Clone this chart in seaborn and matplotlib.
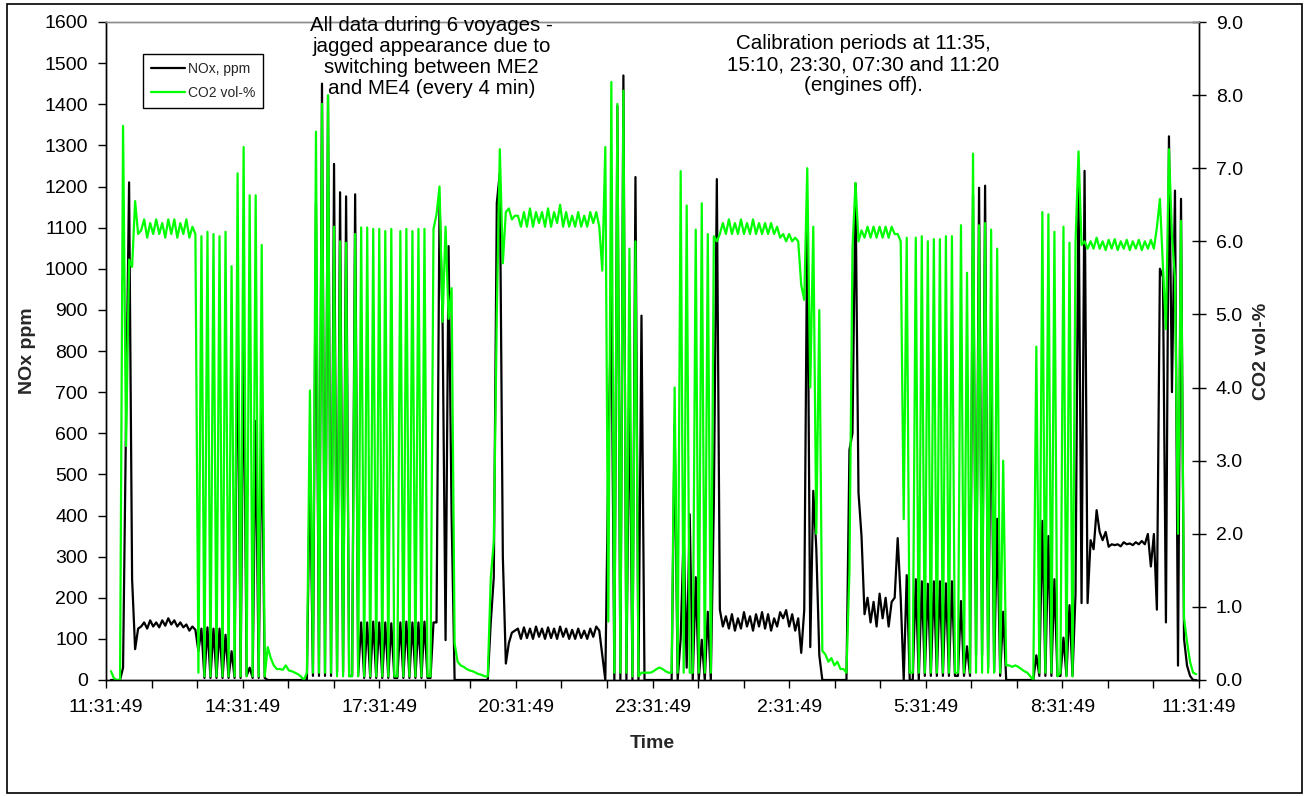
import numpy as np
import pandas as pd
import matplotlib
matplotlib.use("Agg")
import matplotlib.pyplot as plt
from matplotlib.ticker import MultipleLocator, FixedLocator, FormatStrFormatter
from matplotlib.patches import Rectangle
import seaborn as sns

sns.set_style("white")
plt.rcParams['font.family'] = ['Liberation Sans', 'DejaVu Sans']

# ---------------- data (one sample about every 4 minutes) ----------------
first_sample_min = 6.59      # minutes after 11:31:49 of the first logged sample
sample_step_min = 3.971      # logging interval in minutes

co2_1 = [0.12, 0.02, 0.0, 0.0, 7.58, 3.2, 5.75, 5.65, 6.55, 6.1,
         6.15, 6.3, 6.05, 6.25, 6.1, 6.3, 6.1, 6.25, 6.05, 6.3,
         6.1, 6.3, 6.05, 6.25, 6.1, 6.3, 6.05, 6.2, 6.1, 0.1,
         6.07, 0.05, 6.13, 0.05, 6.1, 0.05, 6.07, 0.05, 6.13, 0.05,
         5.66, 0.05, 6.93, 0.05, 7.29]
nox_1 = [0, 0, 0, 0, 30, 640, 1210, 245, 75, 125,
         130, 140, 125, 145, 130, 140, 128, 145, 132, 150,
         135, 145, 130, 140, 128, 135, 120, 130, 122, 70,
         125, 5, 128, 5, 125, 5, 125, 5, 110, 5,
         70, 5, 918, 5, 855]

co2_2 = [0.05, 6.63, 0.05, 6.63, 0.05, 5.95, 0.05, 0.45, 0.3, 0.2,
         0.15, 0.15, 0.14, 0.2, 0.13, 0.12, 0.1, 0.08, 0.05, 0.0,
         0.1, 3.96, 0.1, 7.5, 0.1, 7.88, 0.1, 8.0, 0.1, 6.2,
         0.05, 6.0, 0.05, 5.98, 0.05, 0.05, 6.1, 0.05, 6.19, 0.05,
         6.19, 0.05, 6.17, 0.05, 6.17]
nox_2 = [10, 30, 5, 630, 5, 660, 5, 0, 0, 0,
         0, 0, 0, 0, 0, 0, 0, 0, 0, 0,
         0, 530, 10, 1160, 10, 1450, 10, 1420, 10, 1255,
         20, 1186, 20, 1176, 10, 10, 1181, 10, 140, 5,
         140, 5, 142, 5, 140]

co2_3 = [0.05, 6.14, 0.05, 6.17, 0.05, 0.05, 6.14, 0.05, 6.17, 0.05,
         6.14, 0.05, 6.17, 0.05, 6.17, 0.05, 0.05, 6.17, 6.37, 6.75,
         4.9, 6.2, 4.94, 5.36, 0.5, 0.25, 0.2, 0.18, 0.15, 0.13,
         0.12, 0.1, 0.08, 0.07, 0.05, 0.05, 1.4, 1.9, 5.0, 7.26,
         5.7, 6.4, 6.45, 6.3, 6.35]
nox_3 = [5, 140, 5, 138, 5, 5, 140, 5, 142, 5,
         140, 5, 140, 5, 142, 5, 5, 140, 140, 1170,
         875, 97, 1055, 400, 0, 0, 0, 0, 0, 0,
         0, 0, 0, 0, 0, 0, 140, 250, 1160, 1233,
         300, 40, 90, 115, 120]

co2_4 = [6.35, 6.2, 6.4, 6.2, 6.45, 6.2, 6.4, 6.25, 6.4, 6.2,
         6.45, 6.2, 6.4, 6.25, 6.5, 6.2, 6.4, 6.2, 6.35, 6.2,
         6.4, 6.2, 6.35, 6.2, 6.4, 6.25, 6.4, 6.2, 5.6, 7.29,
         0.8, 8.18, 0.1, 7.88, 0.1, 8.06, 0.1, 5.9, 0.05, 6.0,
         0.05, 0.1, 0.1, 0.1, 0.1]
nox_4 = [125, 100, 128, 102, 125, 100, 130, 105, 125, 100,
         128, 102, 125, 100, 130, 105, 125, 100, 122, 100,
         125, 102, 120, 100, 125, 105, 130, 120, 60, 0,
         540, 940, 0, 1396, 0, 1470, 0, 750, 0, 1223,
         0, 886, 0, 0, 0]

co2_5 = [0.12, 0.15, 0.17, 0.15, 0.12, 0.1, 0.1, 4.0, 0.1, 6.96,
         0.1, 6.49, 0.1, 0.1, 6.16, 0.1, 6.52, 0.1, 6.1, 0.1,
         6.07, 6.0, 6.1, 6.25, 6.1, 6.3, 6.1, 6.25, 6.1, 6.3,
         6.1, 6.25, 6.1, 6.3, 6.1, 6.25, 6.1, 6.25, 6.1, 6.25,
         6.1, 6.2, 6.05, 6.1, 6.0]
nox_5 = [0, 0, 0, 0, 0, 0, 0, 623, 0, 100,
         360, 30, 403, 0, 250, 0, 98, 0, 166, 0,
         424, 1218, 171, 130, 155, 125, 160, 120, 150, 125,
         165, 130, 155, 120, 160, 130, 165, 125, 160, 120,
         150, 130, 165, 150, 170]

co2_6 = [6.1, 6.0, 6.05, 6.0, 5.4, 5.2, 7.0, 4.0, 6.2, 2.0,
         5.06, 0.4, 0.35, 0.25, 0.3, 0.2, 0.25, 0.15, 0.15, 0.1,
         1.5, 5.9, 6.8, 6.0, 6.15, 6.05, 6.2, 6.05, 6.2, 6.05,
         6.2, 6.05, 6.2, 6.05, 6.2, 6.1, 6.1, 6.0, 2.2, 6.05,
         0.1, 0.1, 6.05, 0.1, 6.07]
nox_6 = [130, 160, 120, 150, 66, 170, 1128, 80, 460, 320,
         60, 0, 0, 0, 0, 0, 0, 0, 0, 0,
         560, 600, 1207, 455, 350, 160, 200, 140, 190, 130,
         210, 150, 200, 130, 190, 200, 345, 200, 0, 255,
         0, 0, 245, 0, 240]

co2_7 = [0.1, 6.0, 0.1, 6.03, 0.1, 6.03, 0.1, 6.07, 0.1, 6.07,
         0.1, 0.1, 6.22, 0.1, 5.57, 0.1, 7.2, 0.1, 6.22, 0.1,
         6.25, 0.1, 6.16, 0.1, 5.9, 0.1, 3.0, 0.2, 0.2, 0.18,
         0.2, 0.18, 0.15, 0.12, 0.1, 0.05, 0.0, 4.56, 0.1, 6.4,
         0.1, 6.37, 0.1, 6.13, 0.05]
nox_7 = [10, 234, 10, 240, 10, 240, 10, 235, 10, 240,
         10, 10, 192, 10, 82, 10, 1180, 60, 1197, 60,
         1202, 30, 740, 20, 392, 10, 166, 0, 0, 0,
         0, 0, 0, 0, 0, 0, 0, 60, 10, 387,
         10, 350, 10, 245, 10]

co2_8 = [0.1, 6.2, 0.05, 5.98, 0.05, 5.98, 7.23, 5.95, 6.0, 5.9,
         6.0, 5.9, 6.05, 5.9, 6.0, 5.88, 6.02, 5.9, 6.03, 5.88,
         6.0, 5.9, 6.02, 5.88, 6.0, 5.9, 6.02, 5.88, 6.0, 5.9,
         6.02, 5.9, 6.19, 6.58, 5.66, 4.8, 7.26, 6.07, 5.5, 2.0,
         6.28, 0.85, 0.52, 0.25, 0.1, 0.08]
nox_8 = [10, 103, 10, 182, 10, 208, 1212, 187, 1238, 187,
         340, 318, 413, 360, 340, 360, 324, 330, 328, 330,
         325, 335, 330, 332, 328, 335, 330, 338, 330, 355,
         276, 355, 171, 1000, 980, 140, 1322, 700, 1190, 35,
         1170, 100, 35, 10, 0, 0]

time_labels = ["11:31:49", "14:31:49", "17:31:49", "20:31:49", "23:31:49",
               "2:31:49", "5:31:49", "8:31:49", "11:31:49"]
nox_label = "NOx, ppm"
co2_label = "CO2 vol-%"

co2 = co2_1 + co2_2 + co2_3 + co2_4 + co2_5 + co2_6 + co2_7 + co2_8
nox = nox_1 + nox_2 + nox_3 + nox_4 + nox_5 + nox_6 + nox_7 + nox_8
minutes = first_sample_min + sample_step_min * np.arange(len(co2))
df = pd.DataFrame({"minutes": minutes, "nox": nox, "co2": co2})

# ---------------- figure ----------------
W, H = 1306, 796
fig = plt.figure(figsize=(W / 100, H / 100), dpi=100)
fig.patch.set_facecolor("white")
L, R, T, B = 106, 1199, 22, 680
ax = fig.add_axes([L / W, 1 - B / H, (R - L) / W, (B - T) / H])
ax2 = ax.twinx()

sns.lineplot(data=df, x="minutes", y="nox", ax=ax, color="black",
             linewidth=1.6, label=nox_label, legend=False)
sns.lineplot(data=df, x="minutes", y="co2", ax=ax2, color="#00ff00",
             linewidth=1.6, label=co2_label, legend=False)

ax.set_xlim(0, 1440)
ax.set_ylim(0, 1600)
ax2.set_ylim(0, 9)
ax.xaxis.set_major_locator(FixedLocator(np.arange(0, 1441, 180)))
ax.set_xticklabels(time_labels)
ax.xaxis.set_minor_locator(MultipleLocator(60))
ax.yaxis.set_major_locator(MultipleLocator(100))
ax2.yaxis.set_major_locator(MultipleLocator(1))
ax2.yaxis.set_major_formatter(FormatStrFormatter("%.1f"))

fs = 14
ax.tick_params(axis="x", which="both", direction="out", length=6, width=1,
               labelsize=fs, pad=8, colors="black", bottom=True)
ax.tick_params(axis="y", direction="out", length=6, width=1, labelsize=fs,
               pad=7, colors="black", left=True)
ax2.tick_params(axis="y", direction="inout", length=10, width=1,
                labelsize=fs, pad=7, colors="black", right=True)

for a in (ax, ax2):
    for s in ("left", "right", "bottom"):
        a.spines[s].set_color("black")
        a.spines[s].set_linewidth(1.0)
    a.spines["top"].set_color("#8c8c8c")
    a.spines["top"].set_linewidth(1.0)

ax.set_xlabel("Time", fontsize=14, fontweight="bold", va="center")
ax.set_ylabel("NOx ppm", fontsize=14, fontweight="bold", va="center", ha="center")
ax2.set_ylabel("CO2 vol-%", fontsize=14, fontweight="bold", va="center", ha="center",
               rotation=90)
ax.xaxis.set_label_coords(0.5, (B - 744) / (B - T))
ax.yaxis.set_label_coords((28 - L) / (R - L), 0.5)
ax2.yaxis.set_label_coords((1262 - L) / (R - L), 0.5)

# legend
handles = ax.get_lines()[:1] + ax2.get_lines()[:1]
leg = ax2.legend(handles, [nox_label, co2_label], loc="upper left",
                 bbox_to_anchor=(143 / W, 1 - 54 / H), bbox_transform=fig.transFigure,
                 borderaxespad=0, frameon=True, fancybox=False, framealpha=1,
                 edgecolor="black", fontsize=10, handlelength=2.5,
                 handletextpad=0.2, borderpad=0.55, labelspacing=0.75)
leg.get_frame().set_linewidth(1.0)

# annotations
fig.text(431.5 / W, 1 - 16 / H,
         "All data during 6 voyages -\njagged appearance due to\nswitching between ME2\nand ME4 (every 4 min)",
         ha="center", va="top", fontsize=14.8, linespacing=1.14, color="black")
fig.text(863.5 / W, 1 - 34 / H,
         "Calibration periods at 11:35,\n15:10, 23:30, 07:30 and 11:20\n(engines off).",
         ha="center", va="top", fontsize=14.8, linespacing=1.14, color="black")

# chart-area border
fig.patches.append(Rectangle((6.5 / W, 1 - 793 / H), (1302 - 6.5) / W, (793 - 3.5) / H,
                             transform=fig.transFigure, fill=False,
                             edgecolor="black", linewidth=1.2))

fig.savefig("out.png", dpi=100, facecolor="white")
